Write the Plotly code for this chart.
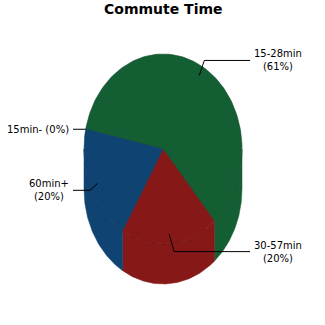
import numpy as np
import plotly.graph_objects as go

# ---- data ----
labels = ["15min-", "15-28min", "30-57min", "60min+"]
values = [0, 61, 20, 20]          # percent shares
colors = ["#7a7a7a", "#145E33", "#861818", "#0F4372"]
edges = ["#555555", "#0f4a28", "#6a1212", "#0b355b"]
title = "Commute Time"

# ---- geometry (pixel-like axis units) ----
cx, cy = 163, 149
rx, ry = 79, 95
depth = 40
start = 168.0  # degrees, math convention, going clockwise

total = float(sum(values))
fig = go.Figure()


def pt(a_deg, dy=0.0, r=1.0):
    a = np.radians(a_deg)
    return cx + r * rx * np.cos(a), cy - r * ry * np.sin(a) + dy


bounds = []
a = start
for v in values:
    a2 = a - 360.0 * v / total
    bounds.append((a, a2))
    a = a2

# side faces (visible lower half)
for (a_hi, a_lo), c, e, v in zip(bounds, colors, edges, values):
    if v == 0:
        continue
    for k in range(-2, 3):
        lo = max(a_lo, -180 + 360 * k)
        hi = min(a_hi, 0 + 360 * k)
        if hi - lo <= 0.01:
            continue
        ts = np.linspace(hi, lo, 60)
        xs_t, ys_t = pt(ts)
        xs_b, ys_b = pt(ts[::-1], dy=depth)
        xs = np.concatenate([xs_t, xs_b, xs_t[:1]])
        ys = np.concatenate([ys_t, ys_b, ys_t[:1]])
        fig.add_trace(go.Scatter(x=xs, y=ys, mode="lines", fill="toself",
                                 fillcolor=c, line=dict(color=c, width=0.5),
                                 hoverinfo="skip", showlegend=False))

# top faces
for (a_hi, a_lo), c, e, v in zip(bounds, colors, edges, values):
    if v == 0:
        continue
    ts = np.linspace(a_hi, a_lo, 120)
    xs, ys = pt(ts)
    xs = np.concatenate([[cx], xs, [cx]])
    ys = np.concatenate([[cy], ys, [cy]])
    fig.add_trace(go.Scatter(x=xs, y=ys, mode="lines", fill="toself",
                             fillcolor=c, line=dict(color=e, width=0.6),
                             hoverinfo="skip", showlegend=False))

# labels with leader lines
annotations = []
for (a_hi, a_lo), lab, v in zip(bounds, labels, values):
    m = (a_hi + a_lo) / 2.0
    ax_, ay_ = pt(m, r=0.9)
    ly = cy - 103 * np.sin(np.radians(m))
    right = np.cos(np.radians(m)) > 0
    if right:
        kx = ax_ + 5
        ex = 250
        tx, xanchor = 252, "left"
    else:
        kx = ax_ - 8
        ex = 73
        tx, xanchor = 71, "right"
    if v == 0:
        text = f"{lab} ({v}%)"
        ax_, ay_ = pt(m, r=1.0)
        ly = ay_
        kx = ax_
    else:
        text = f"{lab}<br>({v}%)"
    fig.add_trace(go.Scatter(x=[ax_, kx, ex], y=[ay_, ly, ly], mode="lines",
                             line=dict(color="black", width=1),
                             hoverinfo="skip", showlegend=False))
    annotations.append(dict(x=tx, y=ly, text=text, showarrow=False,
                            xanchor=xanchor, yanchor="middle", align="center",
                            font=dict(family="DejaVu Sans", size=10, color="black")))

annotations.append(dict(x=163, y=9, text=f"<b>{title}</b>", showarrow=False,
                        xanchor="center", yanchor="middle",
                        font=dict(family="DejaVu Sans", size=14, color="black")))

fig.update_layout(
    width=325, height=325,
    margin=dict(l=0, r=0, t=0, b=0),
    paper_bgcolor="white", plot_bgcolor="white",
    xaxis=dict(range=[0, 325], visible=False, fixedrange=True),
    yaxis=dict(range=[325, 0], visible=False, fixedrange=True),
    annotations=annotations,
    showlegend=False,
)

fig.write_html("out.html")
